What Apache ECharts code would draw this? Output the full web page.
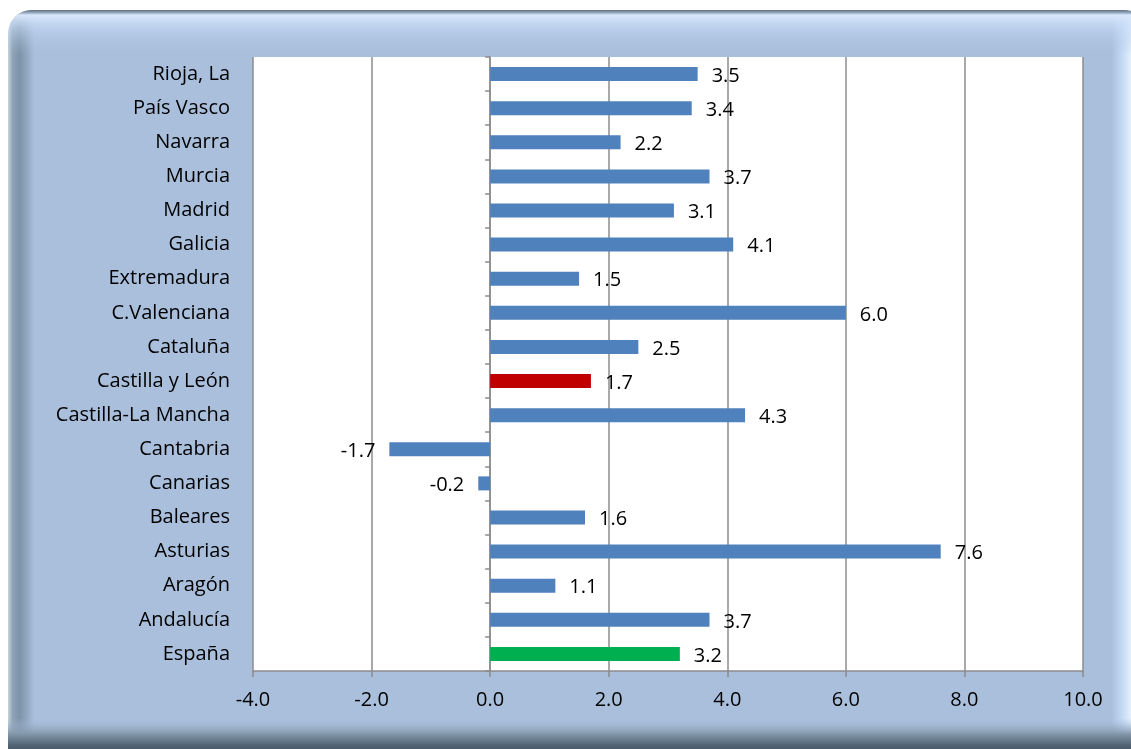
<!DOCTYPE html>
<html><head><meta charset="utf-8">
<script src="https://cdn.jsdelivr.net/npm/echarts@6/dist/echarts.min.js"></script>
<style>html,body{margin:0;padding:0;background:#fff}#c{width:1131px;height:749px}</style>
</head><body><div id="c"></div>
<script>
const categories = ['España','Andalucía','Aragón','Asturias','Baleares','Canarias','Cantabria','Castilla-La Mancha','Castilla y León','Cataluña','C.Valenciana','Extremadura','Galicia','Madrid','Murcia','Navarra','País Vasco','Rioja, La'];
const values = [3.2,3.7,1.1,7.6,1.6,-0.2,-1.7,4.3,1.7,2.5,6.0,1.5,4.1,3.1,3.7,2.2,3.4,3.5];
const barColors = {'España':'#00b050','Castilla y León':'#c00000'};
const defaultColor = '#4f81bd';
const xTicks = {min:-4,max:10,interval:2};

const FONT = 'Open Sans';
const FS = 20;
const chart = echarts.init(document.getElementById('c'));
const data = values.map((v,i)=>({
  value:v,
  itemStyle:{color:barColors[categories[i]]||defaultColor},
  label:{position: v<0?'left':'right'}
}));
chart.setOption({
  animation:false,
  graphic:[
    {type:'rect',z:-10,shape:{x:8,y:10,width:1140,height:760,r:24},
     style:{fill:new echarts.graphic.LinearGradient(0,0,1,0,[
       {offset:0,color:'#c9d3dc'},{offset:0.004,color:'#8ea3b6'},{offset:0.01,color:'#7d93a8'},{offset:0.016,color:'#8fa5bd'},{offset:0.023,color:'#a9bfdc'},
       {offset:0.968,color:'#a9bfdc'},{offset:0.978,color:'#c6dbf6'},{offset:0.988,color:'#f0faff'},{offset:1,color:'#ffffff'}])}},
    {type:'rect',z:-9,shape:{x:8,y:10,width:1140,height:50,r:[24,24,0,0]},
     style:{fill:new echarts.graphic.LinearGradient(0,0,0,1,[
       {offset:0,color:'#5f6f7a'},{offset:0.05,color:'#8fa3b8'},{offset:0.1,color:'#d8e7fb'},{offset:0.35,color:'rgba(200,220,248,0.6)'},{offset:0.9,color:'rgba(169,191,220,0)'}])}},
    {type:'rect',z:-9,shape:{x:8,y:718,width:1140,height:40,r:0},
     style:{fill:new echarts.graphic.LinearGradient(0,0,0,1,[
       {offset:0,color:'rgba(169,191,220,0)'},{offset:0.4,color:'#8397aa'},{offset:0.7,color:'#4e6170'},{offset:1,color:'#3f505c'}])}}
  ],
  grid:{left:253,right:48,top:57,bottom:78,show:true,backgroundColor:'#ffffff',borderWidth:0,containLabel:false},
  xAxis:{type:'value',min:xTicks.min,max:xTicks.max,interval:xTicks.interval,
    axisLine:{show:true,onZero:false,lineStyle:{color:'#8c8c8c',width:1.5}},
    axisTick:{show:true,length:6,lineStyle:{color:'#8c8c8c',width:1.5}},
    splitLine:{show:true,lineStyle:{color:'#8c8c8c',width:1.5}},
    axisLabel:{color:'#000',fontFamily:FONT,fontSize:FS,margin:19,formatter:v=>v.toFixed(1)}},
  yAxis:[
    {type:'category',data:categories,position:'left',
     axisLine:{show:false,onZero:false},axisTick:{show:false},splitLine:{show:false},
     axisLabel:{color:'#000',fontFamily:FONT,fontSize:FS,margin:23}},
    {type:'category',data:categories,position:'left',
     axisLine:{show:true,onZero:true,lineStyle:{color:'#8c8c8c',width:1.5}},
     axisTick:{show:true,length:5,alignWithLabel:false,lineStyle:{color:'#8c8c8c',width:1.5}},
     axisLabel:{show:false},splitLine:{show:false}}
  ],
  series:[{type:'bar',yAxisIndex:0,data:data,barWidth:14,
    label:{show:true,distance:14,color:'#000',fontFamily:FONT,fontSize:FS,offset:[0,2],formatter:p=>p.value.toFixed(1)}}]
});
</script></body></html>
